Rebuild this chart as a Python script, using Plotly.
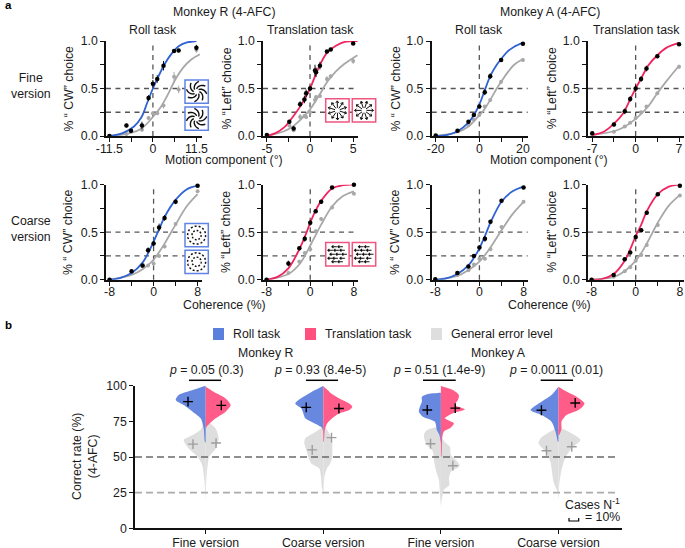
import math
import plotly.graph_objects as go

W, H = 685, 548
FONT = "Liberation Sans"
BLUE, RED, GRAY = "#2F62D2", "#F0255F", "#A8A8A8"
V_BLUE, V_RED, V_GRAY = "#5B7FDC", "#FF5080", "#DEDEDE"

# ---------- panel a : x positions, black/gray points, point errors, fitted curves
P1_x = [-11.5, -7, -5.8, -2.9, -1.15, 0, 1.15, 2.8, 5.6, 6.8, 11.5]
P1_task = [0.0, 0.11, 0.055, 0.11, 0.40, 0.55, 0.60, 0.74, 0.895, 0.90, 0.93]
P1_err = [0.0, 0.02, 0.015, 0.04, 0.03, 0.04, 0.04, 0.05, 0.015, 0.015, 0.03]
P1_ctrl = [0.0, 0.02, 0.05, 0.065, 0.19, 0.24, 0.24, 0.32, 0.625, 0.49, 0.905]
P1_cerr = [0.0, 0.0, 0.015, 0.02, 0.02, 0.02, 0.02, 0.03, 0.05, 0.04, 0.03]
P1_cx = [-11.5, -8, -5, -3, -1.5, 0, 1.5, 3, 5, 7, 9, 11.5]
P1_ct = [0, 0.03, 0.1, 0.2, 0.35, 0.5, 0.63, 0.75, 0.87, 0.95, 0.985, 1.0]
P1_gx = [-11.5, -6, -3, 0, 2, 4, 6, 8, 10, 12.4]
P1_gy = [0, 0.03, 0.08, 0.2, 0.3, 0.44, 0.6, 0.72, 0.8, 0.86]

P2_x = [-5, -2.4, -1.9, -1.15, -0.65, -0.45, 0, 0.58, 0.7, 1.15, 1.96, 2.4, 5]
P2_task = [0.01, 0.15, 0.08, 0.335, 0.385, 0.45, 0.5, 0.69, 0.67, 0.74, 0.89, 0.91, 0.975]
P2_err = [0.0, 0.02, 0.02, 0.03, 0.04, 0.04, 0.03, 0.06, 0.05, 0.04, 0.015, 0.015, 0.01]
P2_ctrl = [0.0, 0.11, 0.06, 0.2, 0.21, 0.2, 0.25, 0.38, 0.41, 0.42, 0.6, 0.63, 0.79]
P2_cerr = [0.0, 0.02, 0.02, 0.03, 0.02, 0.02, 0.02, 0.03, 0.02, 0.02, 0.03, 0.02, 0.03]
P2_cx = [-5, -4, -3, -2, -1, 0, 1, 2, 3, 4, 5.5]
P2_ct = [0, 0.03, 0.09, 0.2, 0.33, 0.5, 0.72, 0.88, 0.95, 0.99, 1.0]
P2_gx = [-5, -3, -2, -1, 0, 1, 2, 3, 4, 5.5]
P2_gy = [0, 0.05, 0.1, 0.18, 0.28, 0.42, 0.57, 0.68, 0.76, 0.85]

P3_x = [-20, -10, -5, -2.5, 0, 2.5, 5, 10, 20]
P3_task = [0.005, 0.055, 0.15, 0.22, 0.31, 0.46, 0.63, 0.80, 0.97]
P3_err = [0.0, 0.01, 0.015, 0.02, 0.02, 0.03, 0.03, 0.015, 0.01]
P3_ctrl = [0.0, 0.05, 0.115, 0.17, 0.22, 0.31, 0.38, 0.57, 0.80]
P3_cerr = [0.0, 0.01, 0.01, 0.01, 0.015, 0.015, 0.015, 0.02, 0.02]
P3_cx = [-20, -15, -10, -5, -2, 0, 2, 5, 8, 10, 13, 16, 20]
P3_ct = [0, 0.01, 0.05, 0.14, 0.24, 0.33, 0.45, 0.63, 0.75, 0.81, 0.89, 0.94, 0.98]
P3_gx = [-20, -10, -5, 0, 2, 5, 8, 10, 13, 16, 20]
P3_gy = [0, 0.04, 0.1, 0.22, 0.27, 0.38, 0.5, 0.57, 0.67, 0.75, 0.81]

P4_x = [-7, -3.5, -1.75, -0.875, 0, 0.875, 1.75, 3.5, 7]
P4_task = [0.03, 0.12, 0.26, 0.39, 0.5, 0.6, 0.71, 0.84, 0.965]
P4_err = [0.01, 0.02, 0.03, 0.03, 0.04, 0.03, 0.03, 0.02, 0.01]
P4_ctrl = [0.01, 0.045, 0.1, 0.14, 0.19, 0.25, 0.31, 0.45, 0.73]
P4_cerr = [0.0, 0.01, 0.01, 0.01, 0.015, 0.01, 0.01, 0.015, 0.02]
P4_cx = [-7, -5, -3.5, -2, -1, 0, 1, 2, 3.5, 5, 7]
P4_ct = [0.01, 0.05, 0.13, 0.24, 0.37, 0.5, 0.62, 0.74, 0.85, 0.93, 0.98]
P4_gx = [-7, -3.5, -2, 0, 1, 2, 3.5, 5, 7]
P4_gy = [0.01, 0.05, 0.09, 0.18, 0.24, 0.31, 0.45, 0.58, 0.74]

COH = [-8, -4, -2, -1, 0, 1, 2, 4, 8]

P5_task = [0.0, 0.09, 0.15, 0.31, 0.38, 0.55, 0.65, 0.82, 0.99]
P5_err = [0.0, 0.015, 0.015, 0.03, 0.03, 0.04, 0.03, 0.025, 0.005]
P5_ctrl = [0.0, 0.07, 0.14, 0.15, 0.17, 0.25, 0.35, 0.585, 0.93]
P5_cerr = [0.0, 0.01, 0.01, 0.01, 0.02, 0.015, 0.02, 0.02, 0.01]
P5_cx = [-8, -6, -4, -2, -1, 0, 1, 2, 4, 6, 8]
P5_ct = [0, 0.02, 0.07, 0.18, 0.28, 0.4, 0.53, 0.66, 0.84, 0.95, 0.99]
P5_gx = [-8, -4, -2, 0, 1, 2, 4, 6, 8]
P5_gy = [0, 0.05, 0.11, 0.21, 0.29, 0.38, 0.58, 0.77, 0.9]

P6_task = [0.0, 0.17, 0.33, 0.43, 0.6, 0.72, 0.82, 0.97, 1.0]
P6_err = [0.0, 0.03, 0.02, 0.03, 0.03, 0.02, 0.02, 0.01, 0.0]
P6_ctrl = [0.0, 0.07, 0.19, 0.28, 0.32, 0.51, 0.64, 0.76, 0.905]
P6_cerr = [0.0, 0.015, 0.02, 0.02, 0.02, 0.02, 0.02, 0.015, 0.01]
P6_cx = [-8, -6, -4, -2, -1, 0, 1, 2, 4, 6, 8]
P6_ct = [0, 0.03, 0.12, 0.32, 0.45, 0.6, 0.73, 0.83, 0.96, 0.995, 1.0]
P6_gx = [-8, -4, -2, -1, 0, 1, 2, 4, 6, 8]
P6_gy = [0, 0.06, 0.16, 0.25, 0.36, 0.47, 0.58, 0.77, 0.88, 0.93]

P7_task = [0.005, 0.07, 0.14, 0.25, 0.34, 0.43, 0.61, 0.83, 0.97]
P7_err = [0.0, 0.01, 0.01, 0.015, 0.02, 0.03, 0.015, 0.015, 0.01]
P7_ctrl = [0.0, 0.05, 0.10, 0.16, 0.22, 0.22, 0.32, 0.555, 0.82]
P7_cerr = [0.0, 0.01, 0.01, 0.01, 0.01, 0.015, 0.015, 0.015, 0.01]
P7_cx = [-8, -6, -4, -2, -1, 0, 1, 2, 4, 6, 8]
P7_ct = [0, 0.015, 0.06, 0.15, 0.23, 0.33, 0.46, 0.6, 0.82, 0.93, 0.98]
P7_gx = [-8, -4, -2, 0, 1, 2, 4, 6, 8]
P7_gy = [0, 0.04, 0.1, 0.19, 0.26, 0.34, 0.52, 0.69, 0.82]

P8_task = [0.0, 0.05, 0.215, 0.285, 0.45, 0.52, 0.705, 0.9, 0.99]
P8_err = [0.0, 0.01, 0.015, 0.015, 0.025, 0.02, 0.015, 0.01, 0.005]
P8_ctrl = [0.0, 0.03, 0.09, 0.13, 0.2, 0.26, 0.365, 0.575, 0.885]
P8_cerr = [0.0, 0.01, 0.01, 0.01, 0.01, 0.01, 0.015, 0.015, 0.01]
P8_cx = [-8, -6, -4, -2, -1, 0, 1, 2, 4, 6, 8]
P8_ct = [0, 0.01, 0.06, 0.2, 0.32, 0.46, 0.58, 0.72, 0.9, 0.98, 1.0]
P8_gx = [-8, -4, -2, 0, 1, 2, 4, 6, 8]
P8_gy = [0, 0.03, 0.09, 0.2, 0.28, 0.38, 0.6, 0.78, 0.89]

X_TICKS = [[-11.5, 0, 11.5], [-5, 0, 5], [-20, 0, 20], [-7, 0, 7], [-8, 0, 8], [-8, 0, 8], [-8, 0, 8], [-8, 0, 8]]
X_MINOR = [[-5.75, 5.75], [-2.5, 2.5], [-10, 10], [-3.5, 3.5], [-4, 4], [-4, 4], [-4, 4], [-4, 4]]
X_LABELS = [["-11.5", "0", "11.5"], ["-5", "0", "5"], ["-20", "0", "20"], ["-7", "0", "7"],
            ["-8", "0", "8"], ["-8", "0", "8"], ["-8", "0", "8"], ["-8", "0", "8"]]
Y_TICKS = [0, 0.5, 1.0]
Y_MINOR = [0.25, 0.75]
Y_LABELS = ["0.0", "0.5", "1.0"]

# ---------- panel b : half-violin outlines (correct rate %, width in px where 10 px = 10 %)
V1_by = [100, 97, 93.5, 90, 86.4, 81.8, 77.1, 70, 60.7, 60]
V1_bw = [0, 13, 27, 30, 22, 13, 5, 2, 0.8, 0]
V1_ry = [99.3, 95.8, 91.1, 86.4, 81.8, 77.1, 71.3, 70]
V1_rw = [0, 8, 20, 25, 20, 10, 1, 0]
V1_gly = [79.4, 70, 65.4, 61.9, 56, 50.2, 44.4, 35, 28, 19.9]
V1_glw = [1.5, 4, 13, 22, 17, 8, 3.5, 1.5, 0.7, 0]
V1_gry = [74.8, 70, 63, 56, 50.2, 44.4, 35, 19.9]
V1_grw = [2, 10, 13, 10, 3.5, 2, 0.7, 0]

V2_by = [99.8, 94.7, 87.6, 84.1, 80.6, 77.1, 73.6, 70.1, 60.7]
V2_bw = [0, 14, 28, 22, 20, 18, 9, 1, 0]
V2_ry = [99.8, 94.6, 90, 87.6, 85.3, 83, 80.6, 77.1, 73.6, 68.9, 60.7]
V2_rw = [0, 8, 19, 26, 29, 26, 16, 9, 4, 1.5, 0.5]
V2_gly = [71.3, 66.6, 63.1, 59.6, 54.9, 50.2, 45.5, 42, 36.2, 29.2, 24.5]
V2_glw = [0, 10, 18, 19, 17, 15, 12, 4, 2.3, 1.5, 0]
V2_gry = [71.3, 65.4, 59.6, 54.9, 50.2, 45.5, 42, 36.2, 29.2, 24.5]
V2_grw = [1, 7, 9, 9, 9, 7, 3.5, 1.2, 0.5, 0]

V3_by = [95.1, 94.2, 92.3, 88.8, 85.3, 81.8, 78.3, 74.8, 68.9, 65.4, 59.6]
V3_bw = [0, 13, 19, 19, 21, 22, 18, 6, 4, 1.5, 0]
V3_ry = [99.8, 97, 93.5, 90, 86.5, 83.4, 80.6, 77.1, 73.6, 70.6, 67.8, 64.3, 50.2]
V3_rw = [0, 12, 18, 17, 14, 24, 12, 4, 13, 10, 3, 1.5, 0.5]
V3_gly = [71.3, 68.9, 65.4, 59.6, 53.7, 47.9, 40.9, 33.9, 24.5, 15.2]
V3_glw = [2, 14, 17, 15, 8, 7, 5, 2, 1, 0]
V3_gry = [64.3, 60.7, 57.2, 51.4, 47.9, 43.7, 39.7, 35, 30.4, 26.8, 15.2]
V3_grw = [0, 3.5, 9, 10, 15, 19, 10, 8, 8.5, 3, 0]

V4_by = [99.3, 93.5, 88.8, 82.9, 79.4, 74.8, 67.8, 60.7]
V4_bw = [0, 7, 17, 28, 17, 7, 3, 0.5]
V4_ry = [99.3, 96.3, 92.3, 87.6, 82.9, 79.4, 74.8, 70, 65.4]
V4_rw = [0, 7, 18, 26, 20, 8, 3, 3, 0.7]
V4_gly = [70, 67.8, 63, 59.6, 53.7, 46.7, 39.7, 32.7, 25.7, 19.9]
V4_glw = [2, 8, 18, 20, 13, 8, 6.5, 5, 1, 0]
V4_gry = [70, 66.6, 61.9, 56, 49, 39.7, 30.4, 19.9]
V4_grw = [3, 13, 22, 13, 6.5, 2.7, 0.7, 0]

# mean markers : x is category position + offset, y is correct rate %
CAT_LABELS = ["Fine version", "Coarse version", "Fine version", "Coarse version"]
MEAN_X = [-0.150, 0.133, 0.855, 1.133, 1.884, 2.122, 2.855, 3.142]
MEAN_Y = [88.8, 86.2, 84.8, 84.0, 83.0, 84.3, 82.8, 87.9]
ERR_X = [-0.108, 0.088, 0.906, 1.07, 1.912, 2.102, 2.898, 3.113]
ERR_Y = [59.0, 59.8, 55.0, 63.6, 59.3, 43.9, 54.4, 57.2]
P_LABELS = ["<i>p</i> = 0.05 (0.3)", "<i>p</i> = 0.93 (8.4e-5)", "<i>p</i> = 0.51 (1.4e-9)", "<i>p</i> = 0.0011 (0.01)"]

# ---------- layout in window pixels
COL_L = [106, 263, 431.7, 588]
COL_R = [201.7, 358, 527.7, 684]
X_RANGES = [(-12.4, 12.9), (-5.45, 5.56), (-21.85, 22.2), (-7.68, 7.8)]
ROW_T = [41, 184.7]
ROW_B = [136, 279.7]
XR8 = [(-8.65, 8.75), (-8.65, 8.75), (-8.65, 8.75), (-8.65, 8.75)]


def fx(p):
    return p / W


def fy(p):
    return 1 - p / H


fig = go.Figure()
layout = {}
shapes = []
ann = []
TICKFONT = dict(family=FONT, size=12.3, color="#1a1a1a")


def axis_style(vals, labels, minor=None, standoff=0):
    d = dict(tickmode="array", tickvals=vals, ticktext=labels, ticks="outside", ticklen=4, tickwidth=1.3,
             tickcolor="#111", showline=True, linewidth=1.6, linecolor="#111", showgrid=False, zeroline=False,
             tickfont=TICKFONT, ticklabelstandoff=standoff)
    if minor:
        d["minor"] = dict(tickmode="array", tickvals=minor, ticks="outside", ticklen=4, tickwidth=1.3,
                          tickcolor="#111", showgrid=False)
    return d


def text(x, y, s, size=12.3, angle=0, anchor="center", weight=None, color="#1a1a1a"):
    if weight:
        s = f"<b>{s}</b>"
    ann.append(dict(x=fx(x), y=fy(y), xref="paper", yref="paper", text=s, showarrow=False,
                    font=dict(family=FONT, size=size, color=color), textangle=angle,
                    xanchor=anchor, yanchor="middle", align="center"))


PANELS = [
    (P1_x, P1_task, P1_err, P1_ctrl, P1_cerr, P1_cx, P1_ct, P1_gx, P1_gy, BLUE),
    (P2_x, P2_task, P2_err, P2_ctrl, P2_cerr, P2_cx, P2_ct, P2_gx, P2_gy, RED),
    (P3_x, P3_task, P3_err, P3_ctrl, P3_cerr, P3_cx, P3_ct, P3_gx, P3_gy, BLUE),
    (P4_x, P4_task, P4_err, P4_ctrl, P4_cerr, P4_cx, P4_ct, P4_gx, P4_gy, RED),
    (COH, P5_task, P5_err, P5_ctrl, P5_cerr, P5_cx, P5_ct, P5_gx, P5_gy, BLUE),
    (COH, P6_task, P6_err, P6_ctrl, P6_cerr, P6_cx, P6_ct, P6_gx, P6_gy, RED),
    (COH, P7_task, P7_err, P7_ctrl, P7_cerr, P7_cx, P7_ct, P7_gx, P7_gy, BLUE),
    (COH, P8_task, P8_err, P8_ctrl, P8_cerr, P8_cx, P8_ct, P8_gx, P8_gy, RED),
]
DASH = dict(color="#555555", width=1.3, dash="5px,4.5px")

for i, (px, task, err, ctrl, cerr, cx, ct, gx, gy, col) in enumerate(PANELS):
    n = i + 2
    c = i % 4
    r = i // 4
    xa, ya = f"x{n}", f"y{n}"
    rng = X_RANGES[c] if r == 0 else XR8[c]
    layout[f"xaxis{n}"] = dict(domain=[fx(COL_L[c]), fx(COL_R[c])], range=list(rng), anchor=ya,
                               **axis_style(X_TICKS[i], X_LABELS[i], X_MINOR[i], -4))
    layout[f"yaxis{n}"] = dict(domain=[fy(ROW_B[r]), fy(ROW_T[r])], range=[0, 1], anchor=xa,
                               **axis_style(Y_TICKS, Y_LABELS, Y_MINOR))
    for v in (0.5, 0.25):
        shapes.append(dict(type="line", xref=f"{xa} domain", yref=ya, x0=0, x1=1, y0=v, y1=v, layer="below", line=DASH))
    shapes.append(dict(type="line", xref=xa, yref=f"{ya} domain", x0=0, x1=0, y0=0, y1=1, layer="below", line=DASH))
    fig.add_trace(go.Scatter(x=gx, y=gy, mode="lines", xaxis=xa, yaxis=ya, showlegend=False, cliponaxis=False,
                             line=dict(color=GRAY, width=1.8, shape="spline", smoothing=1)))
    fig.add_trace(go.Scatter(x=px, y=ctrl, mode="markers", xaxis=xa, yaxis=ya, showlegend=False, cliponaxis=False,
                             error_y=dict(type="data", array=cerr, color=GRAY, thickness=1, width=0),
                             marker=dict(color=GRAY, size=4)))
    fig.add_trace(go.Scatter(x=cx, y=ct, mode="lines", xaxis=xa, yaxis=ya, showlegend=False, cliponaxis=False,
                             line=dict(color=col, width=1.8, shape="spline", smoothing=1)))
    fig.add_trace(go.Scatter(x=px, y=task, mode="markers", xaxis=xa, yaxis=ya, showlegend=False, cliponaxis=False,
                             error_y=dict(type="data", array=err, color="#111", thickness=1, width=0),
                             marker=dict(color="#000", size=4.5)))

# panel b axes
BX = 10
layout[f"xaxis{BX}"] = dict(domain=[fx(135), fx(622)], range=[-0.601, 3.54], anchor=f"y{BX}",
                            **axis_style([0, 1, 2, 3], CAT_LABELS, None, -2))
layout[f"yaxis{BX}"] = dict(domain=[fy(528.3), fy(385.7)], range=[0, 100], anchor=f"x{BX}",
                            **axis_style([0, 25, 50, 75, 100], ["0", "25", "50", "75", "100"]))
PX_PER_CAT = 117.6


def half(pos, ys, ws, sign, color, opacity=1.0):
    xs = [pos + sign * w / PX_PER_CAT for w in ws]
    fig.add_trace(go.Scatter(x=[pos] + xs + [pos], y=[ys[0]] + list(ys) + [ys[-1]], mode="lines", fill="toself",
                             fillcolor=color, opacity=opacity, line=dict(width=0, shape="spline", smoothing=0.7),
                             xaxis=f"x{BX}", yaxis=f"y{BX}", showlegend=False, hoverinfo="skip"))


VIOLINS = [
    (V1_gly, V1_glw, V1_gry, V1_grw, V1_by, V1_bw, V1_ry, V1_rw),
    (V2_gly, V2_glw, V2_gry, V2_grw, V2_by, V2_bw, V2_ry, V2_rw),
    (V3_gly, V3_glw, V3_gry, V3_grw, V3_by, V3_bw, V3_ry, V3_rw),
    (V4_gly, V4_glw, V4_gry, V4_grw, V4_by, V4_bw, V4_ry, V4_rw),
]
for pos, (gly, glw, gry, grw, by, bw, ry, rw) in enumerate(VIOLINS):
    half(pos, gly, glw, -1, V_GRAY)
    half(pos, gry, grw, 1, V_GRAY)
    half(pos, by, bw, -1, V_BLUE, 0.93)
    half(pos, ry, rw, 1, V_RED, 0.93)

for v, col, w in ((50, "#6a6a6a", 1.6), (25, "#ababab", 1.6)):
    shapes.append(dict(type="line", xref=f"x{BX}", yref=f"y{BX}", x0=-0.601, x1=3.505, y0=v, y1=v, layer="above",
                       line=dict(color=col, width=w, dash="7px,4px")))
fig.add_trace(go.Scatter(x=ERR_X, y=ERR_Y, mode="markers", xaxis=f"x{BX}", yaxis=f"y{BX}", showlegend=False,
                         marker=dict(symbol="cross-thin", size=7, line=dict(color="#9d9d9d", width=1.4))))
fig.add_trace(go.Scatter(x=MEAN_X, y=MEAN_Y, mode="markers", xaxis=f"x{BX}", yaxis=f"y{BX}", showlegend=False,
                         marker=dict(symbol="cross-thin", size=7, line=dict(color="#000", width=1.4))))

# ---------- texts
text(3, 5, "a", 11.5, anchor="left", weight=True, color="#000")
text(3, 325, "b", 11.5, anchor="left", weight=True, color="#000")
text(224, 12, "Monkey R (4-AFC)")
text(550, 12, "Monkey A (4-AFC)")
for xc, s in ((153, "Roll task"), (310, "Translation task"), (479, "Roll task"), (636, "Translation task")):
    text(xc, 30, s)
text(31, 85.5, "Fine<br>version")
text(31, 229.5, "Coarse<br>version")
for xc in (224, 549):
    text(xc, 160, "Motion component (°)")
    text(xc, 305, "Coherence (%)")
for yc in (88.5, 232):
    text(68, yc, "% “ CW” choice", angle=-90)
    text(226, yc, "% “Left” choice", angle=-90)
    text(395, yc, "% “ CW” choice", angle=-90)
    text(551.7, yc, "% “Left” choice", angle=-90)
text(85, 457, "Correct rate (%)<br>(4-AFC)", angle=-90)
text(231, 334, "Roll task", anchor="left")
text(323, 334, "Translation task", anchor="left")
text(449, 334, "General error level", anchor="left")
text(265, 352.7, "Monkey R")
text(499, 352.7, "Monkey A")
for xc, s in zip((206, 320, 439, 556), P_LABELS):
    text(xc, 370, s)
text(621.7, 504, "Cases N<sup>-1</sup>", anchor="right")
text(621.7, 517, "= 10%", anchor="right")


def rect(x0, y0, x1, y1, fill, line=None, lw=1.5):
    shapes.append(dict(type="rect", xref="paper", yref="paper", x0=fx(x0), x1=fx(x1), y0=fy(y0), y1=fy(y1),
                       fillcolor=fill, layer="above", line=dict(color=line or fill, width=lw if line else 0)))


rect(213, 328, 224, 340, V_BLUE)
rect(305, 328, 316, 340, V_RED)
rect(431, 328, 442, 340, V_GRAY)
for a, b in ((189, 221), (306, 338), (423, 455.7), (540.7, 573)):
    shapes.append(dict(type="line", xref="paper", yref="paper", x0=fx(a), x1=fx(b), y0=fy(380.3), y1=fy(380.3),
                       line=dict(color="#000", width=1.5)))


def path(segs, color="#000", width=1.2):
    d = ""
    for seg in segs:
        d += "M" + " L".join(f"{fx(x):.5f},{fy(y):.5f}" for x, y in seg) + " "
    shapes.append(dict(type="path", xref="paper", yref="paper", path=d, layer="above",
                       line=dict(color=color, width=width)))


path([[(569, 518), (569, 521), (578.7, 521), (578.7, 518)]], "#000", 1.2)


# ---------- stimulus insets
def pinwheel(cx, cy, sgn):
    segs = []
    for k in range(8):
        a0 = k * math.pi / 4
        segs.append([(cx + (2.8 + 7.6 * t / 6) * math.cos(a0 + sgn * 1.0 * t / 6),
                      cy + (2.8 + 7.6 * t / 6) * math.sin(a0 + sgn * 1.0 * t / 6)) for t in range(7)])
    path(segs, "#111", 1.4)


def radial(cx, cy, offs):
    segs = []
    for k in range(10):
        a = k * math.pi / 5 + offs
        ca, sa = math.cos(a), math.sin(a)
        segs.append([(cx + 2.5 * ca, cy + 2.5 * sa), (cx + 9.5 * ca, cy + 9.5 * sa)])
        segs.append([(cx + 7.5 * ca - 1.5 * sa, cy + 7.5 * sa + 1.5 * ca), (cx + 9.5 * ca, cy + 9.5 * sa),
                     (cx + 7.5 * ca + 1.5 * sa, cy + 7.5 * sa - 1.5 * ca)])
    path(segs, "#111", 1.0)


def rings(cx, cy):
    segs = []
    for rad, cnt in ((9, 14), (4.6, 8)):
        for k in range(cnt):
            a = k * 2 * math.pi / cnt
            b = a + 2 * math.pi / cnt * 0.5
            segs.append([(cx + rad * math.cos(a + (b - a) * t / 3), cy + rad * math.sin(a + (b - a) * t / 3))
                         for t in range(4)])
    path(segs, "#111", 1.5)


def rows(cx, cy):
    segs = []
    for ry, xs in ((-7.5, (-3, 3)), (-4, (-7, -1, 5)), (0, (-5, 1, 7)), (4, (-7, -2, 5)), (7.5, (-3, 3))):
        for xo in xs:
            segs.append([(cx + xo - 2.5, cy + ry), (cx + xo + 2.5, cy + ry)])
            segs.append([(cx + xo - 1, cy + ry - 1.3), (cx + xo - 2.5, cy + ry), (cx + xo - 1, cy + ry + 1.3)])
    path(segs, "#111", 1.1)


IN_BLUE, IN_RED = "#5F84E4", "#F0557F"
for y0, s in ((80, 1), (107, -1)):
    rect(185, y0, 208.3, y0 + 23.3, "white", IN_BLUE)
    pinwheel(196.6, y0 + 11.6, s)
for x0, o in ((325.7, 0.3), (352.3, 0.0)):
    rect(x0, 98.7, x0 + 23.4, 122.1, "white", IN_RED)
    radial(x0 + 11.7, 110.4, o)
for y0 in (223.5, 250.2):
    rect(185, y0, 208.3, y0 + 23.3, "white", IN_BLUE)
    rings(196.6, y0 + 11.6)
for x0 in (325.7, 352.3):
    rect(x0, 242.5, x0 + 23.4, 265.9, "white", IN_RED)
    rows(x0 + 11.7, 254.2)

layout.update(width=W, height=H, margin=dict(l=0, r=0, t=0, b=0, autoexpand=False), paper_bgcolor="white",
              plot_bgcolor="white", showlegend=False, shapes=shapes, annotations=ann,
              font=dict(family=FONT, size=12.3))
fig.update_layout(**layout)
fig.write_html("out.html", config=dict(displayModeBar=False), post_script="document.body.style.margin='0';")
